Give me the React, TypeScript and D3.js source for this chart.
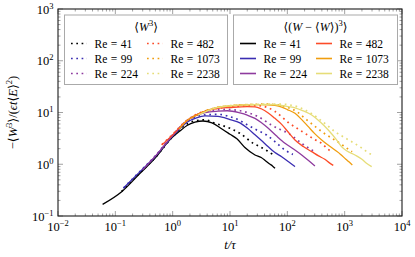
import * as d3 from "d3";

// Reynolds numbers of the runs
const reynolds = [41, 99, 224, 482, 1073, 2238];

// <W^3> (dotted), [t/tau, value]
const mom41 = [[0.129,0.3],[0.27,0.69],[0.49,1.32],[1,3.4],[1.78,6.0],[2.45,6.9],[3.66,7.2],[5.47,6.2],[10,4.95],[14.9,3.96],[25.4,2.54],[33.3,2.18],[45,1.8],[53,1.6],[56,1.5]];
const mom99 = [[0.14,0.35],[0.27,0.73],[0.49,1.4],[1,3.6],[1.78,6.7],[3.66,9.0],[6.17,9.2],[10,8.3],[14.9,7.0],[20,5.8],[29.2,4.6],[43.6,3.67],[60.9,2.73],[91,1.88],[125,1.55]];
const mom224 = [[0.3,0.8],[0.49,1.42],[1,3.7],[1.78,7.0],[3.66,10.2],[8,11.5],[15,10.8],[22,9.7],[31.1,8.3],[53.3,5.7],[75,4.7],[104,3.96],[178,2.54],[266,1.88],[300,1.75]];
const mom482 = [[0.65,2.4],[1,3.8],[1.78,7.1],[3.66,10.7],[10,12.8],[20,13.5],[30,13.6],[45,12.5],[60,10.6],[79.6,8.3],[104,6.4],[150,4.9],[203,3.96],[300,3.0],[397,2.54],[500,2.0],[600,1.7]];
const mom1073 = [[1.3,4.9],[2.8,9.3],[5.47,12.3],[10,13.5],[20,14.2],[40,14.5],[70,14.0],[100,12.6],[150,10.2],[200,7.8],[303,5.4],[420,4.1],[593,3.2],[800,2.6],[1085,2.05],[1350,1.75]];
const mom2238 = [[2.8,9.1],[5.47,12.3],[10,13.6],[30,14.4],[70,14.6],[130,13.5],[203,11.2],[270,9.4],[347,7.7],[500,5.6],[677,4.26],[900,3.5],[1325,2.73],[2000,2.05],[2764,1.6],[2960,1.55]];

// <(W - <W>)^3> (solid)
const cen41 = [[0.06,0.168],[0.129,0.295],[0.27,0.67],[0.49,1.3],[0.9,3.0],[1.34,4.4],[1.78,5.6],[2.45,6.5],[3.38,6.85],[4.85,6.3],[7.24,4.8],[10,3.8],[13.2,3.1],[18.2,2.1],[27.3,1.51],[35,1.35],[42,1.16],[50,1.0],[55,0.93],[61,0.835]];
const cen99 = [[0.1375,0.343],[0.27,0.72],[0.49,1.38],[1,3.5],[1.78,6.5],[2.6,7.9],[3.66,8.6],[6.17,8.4],[10,7.3],[14.9,6.3],[20,5.0],[27.3,3.7],[35,2.9],[46.5,2.18],[60,1.7],[79.6,1.4],[105,1.12],[136,0.9]];
const cen224 = [[0.3,0.78],[0.49,1.4],[1,3.6],[1.78,6.9],[3.66,9.9],[6.17,10.6],[9,10.8],[14.9,9.8],[20,8.9],[27.3,7.7],[35,6.4],[46.5,4.95],[65,3.5],[91,2.54],[130,1.95],[178,1.51],[240,1.15],[303,0.925]];
const cen482 = [[0.643,2.35],[1,3.7],[1.78,7.0],[3.66,10.5],[6.17,12.0],[10,12.5],[20,13.0],[27.3,12.9],[35,11.8],[46.5,9.8],[60,7.8],[79.6,5.9],[105,4.1],[136,2.94],[190,2.2],[266,1.75],[350,1.45],[450,1.25],[550,1.05],[633,0.95]];
const cen1073 = [[1.3,4.8],[1.78,7.0],[2.8,9.2],[5.47,12.2],[10,13.4],[18.2,14.0],[30,14.2],[45,14.1],[60.9,13.7],[80,12.7],[100,11.4],[136,9.65],[180,7.2],[232,5.32],[300,3.9],[397,2.94],[500,2.4],[677,1.88],[850,1.55],[1050,1.25],[1200,1.1],[1360,0.97]];
const cen2238 = [[2.8,9.0],[5.47,12.2],[10,13.5],[18.2,14.1],[27.3,14.2],[50,14.3],[75,13.8],[103.8,13.0],[140,12.2],[180,11.0],[266,8.95],[380,6.5],[518,4.6],[700,3.1],[887,2.18],[1100,1.8],[1512,1.51],[2000,1.25],[2400,1.05],[2960,0.9]];

const moments = [mom41, mom99, mom224, mom482, mom1073, mom2238];
const centrals = [cen41, cen99, cen224, cen482, cen1073, cen2238];

const xTicks = [-2, -1, 0, 1, 2, 3, 4];
const yTicks = [-1, 0, 1, 2, 3];

const colors = ["#000000", "#3a2db2", "#8e3b9e", "#fc4c28", "#f09d0e", "#e6dd78"];
const FONT = "'Liberation Serif', 'DejaVu Serif', serif";

const margin = { top: 9, right: 13, bottom: 41, left: 58 };
const W = 415, H = 257;

export default function App() {
  const x = d3.scaleLog().domain([1e-2, 1e4]).range([margin.left, W - margin.right]);
  const y = d3.scaleLog().domain([1e-1, 1e3]).range([H - margin.bottom, margin.top]);
  const line = d3.line<number[]>()
    .x(d => x(d[0]))
    .y(d => y(d[1]))
    .curve(d3.curveMonotoneX);

  const x0 = x.range()[0], x1 = x.range()[1];
  const y0 = y.range()[0], y1 = y.range()[1];

  // minor + major ticks for a log axis
  const minorX: number[] = [], minorY: number[] = [];
  for (let e = -2; e < 4; e++) for (let k = 2; k < 10; k++) minorX.push(k * Math.pow(10, e));
  for (let e = -1; e < 3; e++) for (let k = 2; k < 10; k++) minorY.push(k * Math.pow(10, e));

  const tickColor = "#8a8a8a";

  const legend = (bx: number, bw: number, title: any, dotted: boolean) => {
    const cols = [bx + 6.5, bx + 82.5];
    return (
      <g>
        <rect x={bx} y={15} width={bw} height={69.5} fill="white" stroke="#aaaaaa" strokeWidth={1} />
        <text x={bx + bw / 2} y={31} textAnchor="middle" fontSize={12} fontFamily={FONT}>{title}</text>
        {reynolds.map((re, i) => {
          const cx = cols[Math.floor(i / 3)];
          const cy = 43.5 + (i % 3) * 15;
          return (
            <g key={re}>
              <line x1={cx} x2={cx + 16} y1={cy} y2={cy} stroke={colors[i]}
                strokeWidth={dotted ? 1.7 : 1.6} strokeDasharray={dotted ? "1.7 3.6" : undefined} />
              <text x={cx + 23.5} y={cy + 4} fontSize={11.5} fontFamily={FONT}>
                Re<tspan dx={3.5}>=</tspan><tspan dx={3.5}>{re}</tspan>
              </text>
            </g>
          );
        })}
      </g>
    );
  };

  return (
    <svg width={W} height={H} style={{ position: "absolute", left: 0, top: 0, background: "white" }}>
      {/* ticks, inward on all sides */}
      <g stroke={tickColor} strokeWidth={0.8}>
        {minorX.map(v => (
          <g key={"mx" + v}>
            <line x1={x(v)} x2={x(v)} y1={y0} y2={y0 - 2.5} />
            <line x1={x(v)} x2={x(v)} y1={y1} y2={y1 + 2.5} />
          </g>
        ))}
        {xTicks.map(e => (
          <g key={"Mx" + e}>
            <line x1={x(Math.pow(10, e))} x2={x(Math.pow(10, e))} y1={y0} y2={y0 - 5} />
            <line x1={x(Math.pow(10, e))} x2={x(Math.pow(10, e))} y1={y1} y2={y1 + 5} />
          </g>
        ))}
        {minorY.map(v => (
          <g key={"my" + v}>
            <line x1={x0} x2={x0 + 2.5} y1={y(v)} y2={y(v)} />
            <line x1={x1} x2={x1 - 2.5} y1={y(v)} y2={y(v)} />
          </g>
        ))}
        {yTicks.map(e => (
          <g key={"My" + e}>
            <line x1={x0} x2={x0 + 5} y1={y(Math.pow(10, e))} y2={y(Math.pow(10, e))} />
            <line x1={x1} x2={x1 - 5} y1={y(Math.pow(10, e))} y2={y(Math.pow(10, e))} />
          </g>
        ))}
      </g>

      {/* curves */}
      <g fill="none">
        {moments.map((d, i) => (
          <path key={"m" + i} d={line(d) || ""} stroke={colors[i]} strokeWidth={1.7}
            strokeDasharray="1.7 3.8" />
        ))}
        {centrals.map((d, i) => (
          <path key={"c" + i} d={line(d) || ""} stroke={colors[i]} strokeWidth={1.3} />
        ))}
      </g>

      {/* legends */}
      {legend(64.5, 163, <>⟨<tspan fontStyle="italic">W</tspan><tspan dy={-5} fontSize={8.5}>3</tspan><tspan dy={5}>⟩</tspan></>, true)}
      {legend(233.5, 164, <>⟨(<tspan fontStyle="italic">W</tspan> − ⟨<tspan fontStyle="italic">W</tspan>⟩)<tspan dy={-5} fontSize={8.5}>3</tspan><tspan dy={5}>⟩</tspan></>, false)}

      {/* frame */}
      <rect x={x0} y={y1} width={x1 - x0} height={y0 - y1} fill="none" stroke="#1a1a1a" strokeWidth={1.1} />

      {/* tick labels */}
      {xTicks.map(e => (
        <text key={"xl" + e} x={x(Math.pow(10, e))} y={230.5} textAnchor="middle" fontSize={12.5} fontFamily={FONT}>
          10<tspan dy={-5} fontSize={8.5}>{e < 0 ? "−" + (-e) : e}</tspan>
        </text>
      ))}
      {yTicks.map(e => (
        <text key={"yl" + e} x={53.5} y={y(Math.pow(10, e)) + 4.5} textAnchor="end" fontSize={12.5} fontFamily={FONT}>
          10<tspan dy={-5} fontSize={8.5}>{e < 0 ? "−" + (-e) : e}</tspan>
        </text>
      ))}

      {/* axis labels */}
      <text x={(x0 + x1) / 2} y={249} textAnchor="middle" fontSize={12.5} fontFamily={FONT} fontStyle="italic">
        t/τ
      </text>
      <text transform={`translate(17,${(y0 + y1) / 2}) rotate(-90)`} textAnchor="middle" fontSize={12.5} fontFamily={FONT}>
        −⟨<tspan fontStyle="italic">W</tspan><tspan dy={-5} fontSize={8.5}>3</tspan><tspan dy={5}>⟩/(</tspan><tspan fontStyle="italic">ϵt</tspan>⟨<tspan fontStyle="italic">E</tspan>⟩<tspan dy={-5} fontSize={8.5}>2</tspan><tspan dy={5}>)</tspan>
      </text>
    </svg>
  );
}
